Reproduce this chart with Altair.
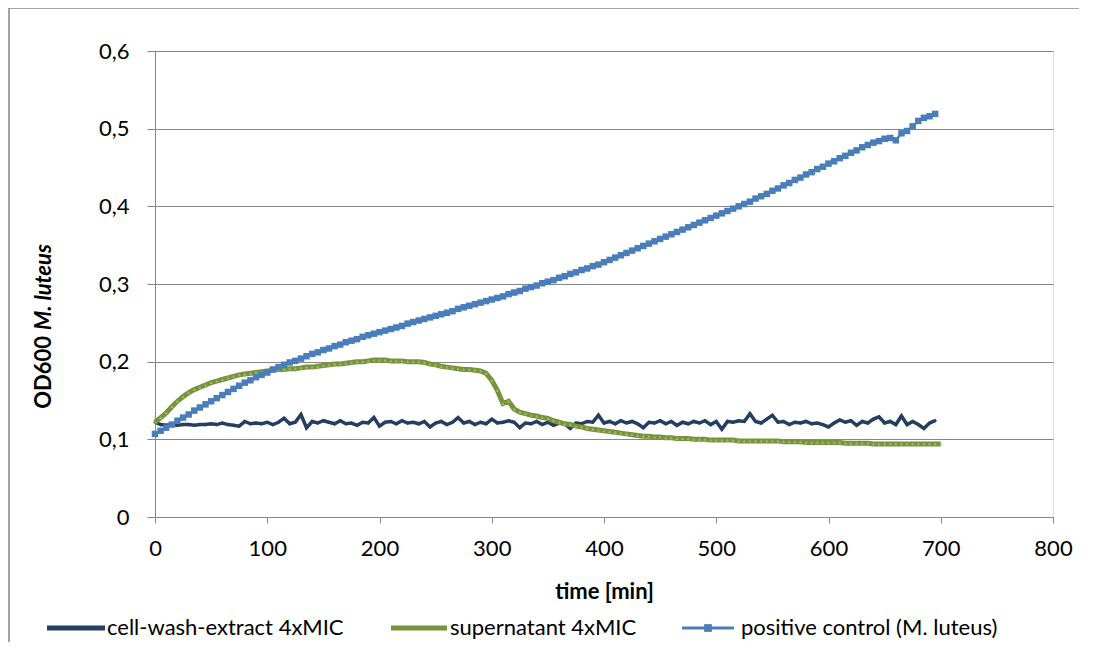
import altair as alt
import pandas as pd

# sampling times (min)
time_min = list(range(0, 705, 5))

cell_wash = [
    0.122, 0.119, 0.118, 0.119, 0.118, 0.119, 0.119, 0.118, 0.119, 0.119,
    0.120, 0.119, 0.121, 0.119, 0.118, 0.117, 0.123, 0.120, 0.121, 0.120,
    0.122, 0.119, 0.122, 0.127, 0.120, 0.122, 0.132, 0.115, 0.123, 0.121,
    0.124, 0.122, 0.120, 0.124, 0.120, 0.121, 0.118, 0.122, 0.121, 0.128,
    0.117, 0.122, 0.123, 0.120, 0.124, 0.121, 0.122, 0.120, 0.123, 0.116,
    0.121, 0.123, 0.119, 0.122, 0.128, 0.121, 0.123, 0.119, 0.122, 0.120,
    0.126, 0.121, 0.122, 0.124, 0.122, 0.115, 0.121, 0.120, 0.123, 0.119,
    0.122, 0.118, 0.121, 0.120, 0.114, 0.121, 0.120, 0.123, 0.122, 0.131,
    0.121, 0.123, 0.120, 0.124, 0.121, 0.123, 0.120, 0.115, 0.122, 0.121,
    0.124, 0.120, 0.123, 0.118, 0.122, 0.120, 0.123, 0.121, 0.124, 0.119,
    0.123, 0.113, 0.123, 0.122, 0.124, 0.123, 0.133, 0.123, 0.121, 0.126,
    0.131, 0.122, 0.123, 0.119, 0.122, 0.121, 0.123, 0.120, 0.121, 0.119,
    0.116, 0.121, 0.125, 0.122, 0.124, 0.118, 0.123, 0.121, 0.126, 0.129,
    0.121, 0.123, 0.119, 0.130, 0.119, 0.123, 0.119, 0.114, 0.121, 0.124,
]

supernatant = [
    0.122, 0.128, 0.134, 0.142, 0.149, 0.155, 0.160, 0.164, 0.167, 0.170,
    0.173, 0.175, 0.177, 0.179, 0.181, 0.183, 0.184, 0.185, 0.186, 0.187,
    0.188, 0.189, 0.190, 0.190, 0.191, 0.191, 0.192, 0.193, 0.193, 0.194,
    0.195, 0.196, 0.197, 0.197, 0.198, 0.199, 0.200, 0.200, 0.201, 0.202,
    0.202, 0.202, 0.201, 0.201, 0.201, 0.200, 0.200, 0.200, 0.199, 0.197,
    0.196, 0.194, 0.193, 0.192, 0.191, 0.190, 0.190, 0.189, 0.188, 0.185,
    0.176, 0.163, 0.146, 0.149, 0.139, 0.135, 0.133, 0.131, 0.130, 0.128,
    0.127, 0.124, 0.122, 0.120, 0.119, 0.117, 0.116, 0.114, 0.113, 0.112,
    0.111, 0.110, 0.109, 0.108, 0.107, 0.106, 0.105, 0.104, 0.104, 0.103,
    0.103, 0.102, 0.102, 0.101, 0.101, 0.101, 0.100, 0.100, 0.100, 0.099,
    0.099, 0.099, 0.099, 0.099, 0.098, 0.098, 0.098, 0.098, 0.098, 0.098,
    0.098, 0.098, 0.097, 0.097, 0.097, 0.097, 0.096, 0.096, 0.096, 0.096,
    0.096, 0.096, 0.096, 0.095, 0.095, 0.095, 0.095, 0.095, 0.094, 0.094,
    0.094, 0.094, 0.094, 0.094, 0.094, 0.094, 0.094, 0.094, 0.094, 0.094,
    0.094,
]

positive = [
    0.107, 0.111, 0.115, 0.119, 0.124, 0.128, 0.132, 0.137, 0.141, 0.145,
    0.149, 0.153, 0.157, 0.161, 0.165, 0.169, 0.173, 0.176, 0.180, 0.183,
    0.186, 0.190, 0.193, 0.196, 0.199, 0.201, 0.204, 0.207, 0.210, 0.212,
    0.215, 0.217, 0.220, 0.222, 0.225, 0.227, 0.229, 0.232, 0.234, 0.236,
    0.238, 0.240, 0.242, 0.244, 0.246, 0.249, 0.251, 0.253, 0.255, 0.257,
    0.259, 0.261, 0.263, 0.265, 0.268, 0.270, 0.272, 0.274, 0.276, 0.278,
    0.280, 0.282, 0.284, 0.287, 0.289, 0.291, 0.294, 0.296, 0.298, 0.301,
    0.303, 0.305, 0.308, 0.310, 0.313, 0.315, 0.318, 0.320, 0.323, 0.325,
    0.328, 0.331, 0.334, 0.337, 0.340, 0.343, 0.346, 0.349, 0.352, 0.355,
    0.358, 0.361, 0.364, 0.367, 0.370, 0.373, 0.376, 0.379, 0.382, 0.385,
    0.388, 0.391, 0.394, 0.397, 0.400, 0.403, 0.406, 0.410, 0.413, 0.416,
    0.420, 0.423, 0.427, 0.430, 0.434, 0.437, 0.441, 0.444, 0.448, 0.451,
    0.455, 0.458, 0.462, 0.465, 0.469, 0.472, 0.476, 0.479, 0.482, 0.484,
    0.487, 0.488, 0.485, 0.494, 0.497, 0.503, 0.510, 0.514, 0.516, 0.519,
]

series_names = ["cell-wash-extract 4xMIC", "supernatant 4xMIC", "positive control (M. luteus)"]
series_colors = ["#243F60", "#77933C", "#4A7EBB"]
x_ticks = [0, 100, 200, 300, 400, 500, 600, 700, 800]
y_ticks = [0, 0.1, 0.2, 0.3, 0.4, 0.5, 0.6]

FONT = "Lato"
FS = 22
W, H = 898, 466

def frame(vals, name):
    return pd.DataFrame({"time": time_min[:len(vals)], "od": vals, "series": name})

df_cw = frame(cell_wash, series_names[0])
df_sn = frame(supernatant, series_names[1])
df_pc = frame(positive, series_names[2])

xscale = alt.Scale(domain=[0, 800], nice=False, zero=False)
yscale = alt.Scale(domain=[0, 0.6], nice=False)

xax = alt.Axis(values=x_ticks, grid=False, title="time [min]", labelFont=FONT, labelFontSize=FS,
               labelColor="#000000", titleFont=FONT, titleFontSize=FS, titleFontWeight="bold",
               titleColor="#000000", domainColor="#868686", tickColor="#868686", tickSize=6,
               labelPadding=15, titlePadding=22, labelFlush=False)
yax = alt.Axis(values=y_ticks, grid=True, gridColor="#868686", title=None, labelFont=FONT,
               labelFontSize=FS, labelColor="#000000", domainColor="#868686", tickColor="#868686",
               tickSize=8, labelPadding=18,
               labelExpr="datum.value == 0 ? '0' : replace(format(datum.value, '.1f'), '.', ',')")

base_x = alt.X("time:Q", scale=xscale, axis=xax)
base_y = alt.Y("od:Q", scale=yscale, axis=yax)

cw_line = alt.Chart(df_cw).mark_line(color=series_colors[0], strokeWidth=3.5).encode(x=base_x, y=base_y)
cw_pts = alt.Chart(df_cw).mark_point(shape="diamond", filled=True, color=series_colors[0], size=14, opacity=1).encode(
    x="time:Q", y="od:Q")
sn_line = alt.Chart(df_sn).mark_line(color=series_colors[1], strokeWidth=5).encode(x="time:Q", y="od:Q")
sn_pts = alt.Chart(df_sn).mark_point(shape="triangle-up", filled=True, color="#A3BE6A", size=10, opacity=1).encode(
    x="time:Q", y="od:Q")
pc_line = alt.Chart(df_pc).mark_line(color=series_colors[2], strokeWidth=2.5).encode(x="time:Q", y="od:Q")
pc_pts = alt.Chart(df_pc).mark_square(color=series_colors[2], size=42, opacity=1).encode(x="time:Q", y="od:Q")

one = pd.DataFrame({"k": [0]})

# outer chart frame
border = alt.Chart(one).mark_rect(fill=None, stroke="#868686", strokeWidth=1.5).encode(
    x=alt.value(-146), x2=alt.value(W + 200), y=alt.value(-43), y2=alt.value(H + 200))

# y-axis title in two styles
ytitle_a = alt.Chart(one).mark_text(text="OD600", font=FONT, fontSize=FS, fontWeight="bold", angle=270,
                                    align="right", baseline="middle", color="#000000").encode(
    x=alt.value(-111), y=alt.value(285))
ytitle_b = alt.Chart(one).mark_text(text="M. luteus", font=FONT, fontSize=FS, fontWeight="bold",
                                    fontStyle="italic", angle=270, align="left", baseline="middle",
                                    color="#000000").encode(x=alt.value(-111), y=alt.value(279))

# legend (positions relative to the plot area's top-left corner)
LY = 577
leg = []
leg_specs = [(-108, -50, -48), (236, 292, 295), (527, 579, 586)]
for (x1, x2, tx), name, col, sw in zip(leg_specs, series_names, series_colors, [5, 5, 3]):
    leg.append(alt.Chart(one).mark_rule(color=col, strokeWidth=sw).encode(
        x=alt.value(x1), x2=alt.value(x2), y=alt.value(LY)))
    leg.append(alt.Chart(one).mark_text(text=name, font=FONT, fontSize=FS, align="left", baseline="middle",
                                        color="#000000").encode(x=alt.value(tx), y=alt.value(LY)))
leg.append(alt.Chart(one).mark_square(color=series_colors[2], size=60, opacity=1).encode(
    x=alt.value(553), y=alt.value(LY)))

chart = alt.layer(border, cw_line, cw_pts, sn_line, sn_pts, pc_line, pc_pts, ytitle_a, ytitle_b, *leg).properties(
    width=W, height=H,
    autosize=alt.AutoSizeParams(type="none"),
    padding={"left": 147, "top": 43, "right": 26, "bottom": 125},
).configure_view(stroke=None).configure(background="#ffffff")

chart.save("out.html", embed_options={"renderer": "svg", "actions": False})
